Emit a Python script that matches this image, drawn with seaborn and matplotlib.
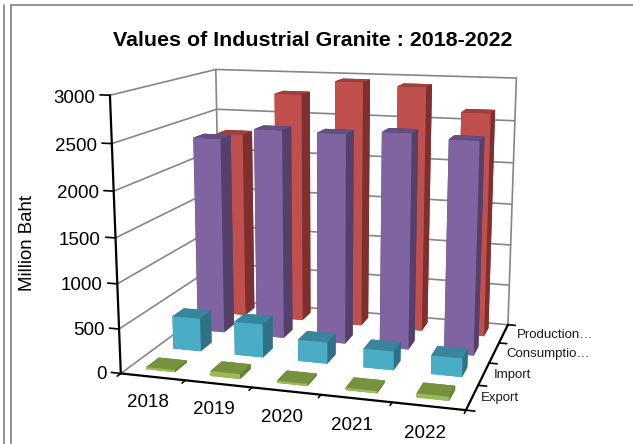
import matplotlib
matplotlib.use("Agg")
import matplotlib.pyplot as plt
from matplotlib.lines import Line2D
import seaborn as sns

sns.set_theme(style="white")
plt.rcParams['font.family'] = ['Liberation Sans', 'DejaVu Sans']

years = ['2018', '2019', '2020', '2021', '2022']
series = ['Export', 'Import', 'Consumptio…', 'Production…']
value_ticks = [0, 500, 1000, 1500, 2000, 2500, 3000]

export_vals = [25, 55, 25, 25, 45]
import_vals = [385, 385, 245, 215, 210]
consumption_vals = [2330, 2460, 2450, 2490, 2440]
production_vals = [2275, 2785, 2955, 2920, 2645]
all_vals = [export_vals, import_vals, consumption_vals, production_vals]

# front, top, side colours per series
face_colors = ['#9BBB59', '#4BACC6', '#8064A2', '#C0504D']
top_colors = ['#76923C', '#37869D', '#644E82', '#A03F3C']
side_colors = ['#64803A', '#2F7186', '#54406B', '#7F2F2E']

grid_col = '#868686'
nx, ny = len(years), len(series)
zmax = value_ticks[-1]

fig = plt.figure(figsize=(6.33, 4.44), dpi=100)
ax = fig.add_axes([0.006, -0.009, 1.0, 1.0], projection='3d')
ax.computed_zorder = False
ax.set_proj_type('persp', focal_length=0.5)
ax.view_init(elev=12.5, azim=-73.5)
ax.set_box_aspect((1, 0.78, 0.8), zoom=1.097)
ax.set_xlim(0, nx)
ax.set_ylim(0, ny)
ax.set_zlim(0, zmax)
ax.set_axis_off()

# back walls
for v in value_ticks:
    ax.plot([0, 0], [0, ny], [v, v], color=grid_col, lw=1.2, zorder=1, clip_on=False)
    ax.plot([0, nx], [ny, ny], [v, v], color=grid_col, lw=1.2, zorder=1, clip_on=False)
ax.plot([0, 0], [ny, ny], [0, zmax], color=grid_col, lw=1.2, zorder=1, clip_on=False)
ax.plot([nx, nx], [ny, ny], [0, zmax], color=grid_col, lw=1.2, zorder=1, clip_on=False)

# axis lines
ax.plot([0, 0], [0, 0], [0, zmax], color='black', lw=1.6, zorder=2, clip_on=False)
ax.plot([0, nx], [0, 0], [0, 0], color='black', lw=1.6, zorder=2, clip_on=False)
ax.plot([nx, nx], [0, ny], [0, 0], color='black', lw=1.6, zorder=2, clip_on=False)

for v in value_ticks:
    ax.plot([-0.15, 0], [0, 0], [v, v], color='black', lw=1.2, zorder=2, clip_on=False)
    ax.text(-0.23, 0, v - 35, str(v), ha='right', va='center', fontsize=13.5, color='black')
for i in range(nx + 1):
    ax.plot([i, i], [-0.12, 0], [0, 0], color='black', lw=1.2, zorder=2, clip_on=False)
for j in range(ny + 1):
    ax.plot([nx, nx + 0.12], [j, j], [0, 0], color='black', lw=1.2, zorder=2, clip_on=False)

for i, yr in enumerate(years):
    ax.text(i + 0.5, -0.2, -235, yr, ha='center', va='center', fontsize=13.5, color='black')
for j, name in enumerate(series):
    ax.text(nx + 0.12 + 0.03 * j, j + 0.5, 0, name, ha='left', va='center', fontsize=9.5, color='#1a1a1a')

# bars, back row first and left to right so they overlap properly
bar_w = 0.45
bar_d = 0.45
z = 3
for j in reversed(range(ny)):
    for i in range(nx):
        cols = [top_colors[j], top_colors[j], face_colors[j], side_colors[j], side_colors[j], side_colors[j]]
        ax.bar3d(i + 0.5 - bar_w / 2, j + 0.5 - bar_d / 2, 0, bar_w, bar_d, all_vals[j][i],
                 color=cols, shade=False, edgecolor='none', zorder=z, clip_on=False)
        z += 1

fig.text(313 / 633, 1 - 40 / 444, 'Values of Industrial Granite : 2018-2022', ha='center', va='center',
         fontsize=15.4, fontweight='bold', color='black')
fig.text(28 / 633, 1 - 243 / 444, 'Million Baht', rotation=90, ha='center', va='center', fontsize=13.4, color='black')

# frame of the surrounding page
frame = '#7f7f7f'
fig.add_artist(Line2D([4 / 633, 4 / 633], [0, 1 - 5 / 444], color=frame, lw=1.2))
fig.add_artist(Line2D([11 / 633, 11 / 633], [0, 1 - 5 / 444], color=frame, lw=1.2))
fig.add_artist(Line2D([11 / 633, 1], [1 - 5.5 / 444, 1 - 5.5 / 444], color=frame, lw=1.2))

fig.savefig('out.png', dpi=100)
